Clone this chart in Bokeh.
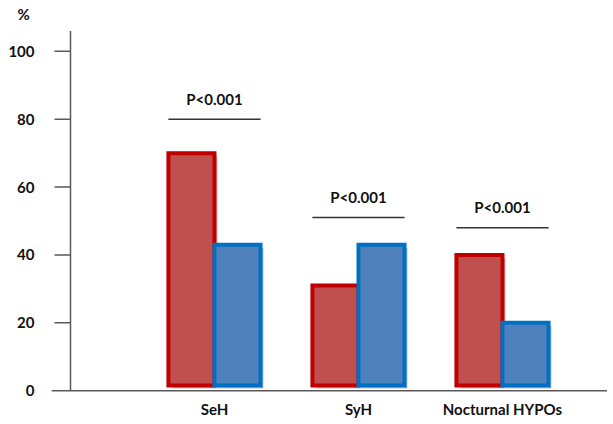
from bokeh.plotting import figure
from bokeh.models import Range1d, FixedTicker, Title
from bokeh.core.properties import value
from bokeh.embed import file_html
from bokeh.resources import INLINE

# ---- data ----
categories = ["SeH", "SyH", "Nocturnal HYPOs"]
group_red = [70, 31, 40]
group_blue = [43, 43, 20]
p_labels = ["P<0.001", "P<0.001", "P<0.001"]
p_line_y = [80, 51, 48]
y_ticks = [0, 20, 40, 60, 80, 100]

# ---- styling constants ----
FONT = "Lato"
FS = "15px"
TXT = "#111111"
AXC = "#595959"
RED_FILL, RED_LINE = "#C0504D", "#C00000"
BLUE_FILL, BLUE_LINE = "#4F81BD", "#0070C0"

W, H = 607, 420
xc = [i + 1 for i in range(len(categories))]
w = 0.32
base = 1.5
px_x = 144.0   # pixels per x unit
px_y = 3.41    # pixels per y unit

frame_left = 51
frame_top = 22
axis_x_px = 70
axis_y_px = 390
x_start = -(axis_x_px - frame_left) / px_x
x_end = x_start + (W - frame_left) / px_x
y_end = (axis_y_px - frame_top) / px_y
y_start = -(H - axis_y_px) / px_y
y_top = 106
label_y = -(408 - axis_y_px) / px_y

p = figure(width=W, height=H, output_backend="svg", toolbar_location=None,
           x_range=Range1d(x_start, x_end), y_range=Range1d(y_start, y_end),
           min_border_left=frame_left, min_border_right=0, min_border_bottom=0,
           min_border_top=0)
p.outline_line_color = None
p.grid.visible = False
p.background_fill_color = "white"
p.xaxis.visible = False

p.title = Title(text="%", align="left", offset=-34, text_font=FONT,
                text_font_style="bold", text_font_size=FS, text_color=TXT,
                standoff=4)

# shadows
dx, dy = 3 / px_x, 3 / px_y
p.vbar(x=[c - w / 2 + dx for c in xc], top=[v - dy for v in group_red],
       bottom=base - dy, width=w, fill_color="#9a9a9a", fill_alpha=0.55, line_color=None)
p.vbar(x=[c + w / 2 + dx for c in xc], top=[v - dy for v in group_blue],
       bottom=base - dy, width=w, fill_color="#9a9a9a", fill_alpha=0.55, line_color=None)

# bars
p.vbar(x=[c - w / 2 for c in xc], top=group_red, bottom=base, width=w,
       fill_color=RED_FILL, line_color=RED_LINE, line_width=4, line_join="miter")
p.vbar(x=[c + w / 2 for c in xc], top=group_blue, bottom=base, width=w,
       fill_color=BLUE_FILL, line_color=BLUE_LINE, line_width=4, line_join="miter")

# p-value brackets
p.segment(x0=[c - w for c in xc], x1=[c + w for c in xc], y0=p_line_y, y1=p_line_y,
          line_color="#333333", line_width=1.5)
p.text(x=xc, y=[v + 6 for v in p_line_y], text=p_labels, text_font=value(FONT),
       text_font_style="bold", text_font_size=FS, text_color=TXT,
       text_align="center", text_baseline="middle")

# axis lines and ticks
tick_len = 16 / px_x
p.segment(x0=[0], x1=[0], y0=[0], y1=[y_top], line_color=AXC, line_width=1.5)
p.segment(x0=[x_start], x1=[x_end], y0=[0], y1=[0], line_color=AXC, line_width=1.5)
p.segment(x0=[-tick_len] * (len(y_ticks) - 1), x1=[0] * (len(y_ticks) - 1),
          y0=y_ticks[1:], y1=y_ticks[1:], line_color=AXC, line_width=1.5)

# category labels
p.text(x=xc, y=label_y, text=categories, text_font=value(FONT),
       text_font_style="bold", text_font_size=FS, text_color=TXT,
       text_align="center", text_baseline="middle")

# y axis: labels only
yax = p.yaxis[0]
yax.ticker = FixedTicker(ticks=y_ticks)
yax.axis_line_color = None
yax.major_tick_line_color = None
yax.minor_tick_line_color = None
yax.major_tick_out = 0
yax.major_tick_in = 0
yax.major_label_standoff = 17
yax.major_label_text_font = FONT
yax.major_label_text_font_style = "bold"
yax.major_label_text_font_size = FS
yax.major_label_text_color = TXT
yax.major_label_text_baseline = "alphabetic"

open("out.html", "w").write(file_html(p, INLINE))
